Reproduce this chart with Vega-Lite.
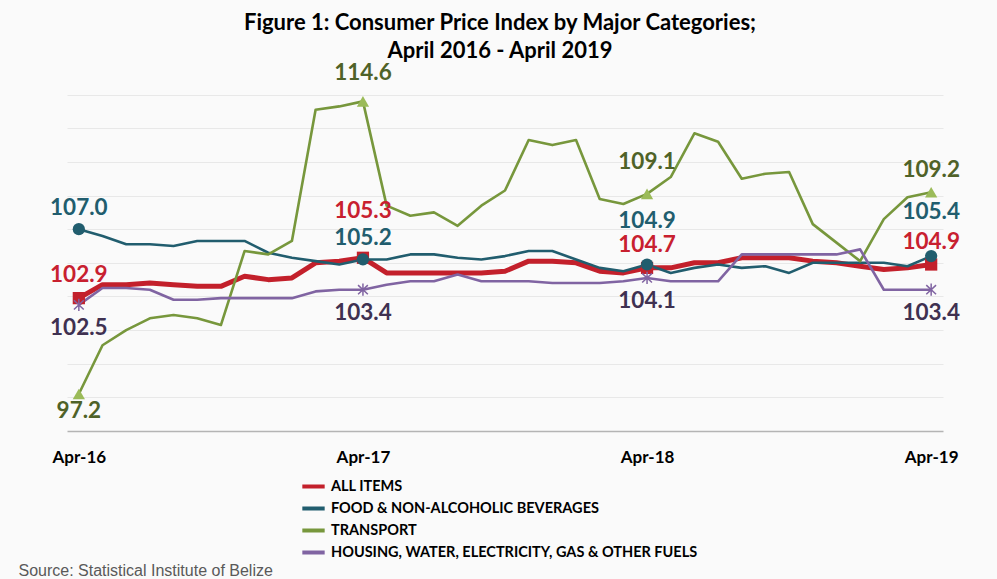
{
  "$schema": "https://vega.github.io/schema/vega-lite/v6.json",
  "width": 876,
  "height": 370,
  "autosize": {"type": "none"},
  "padding": {"left": 67, "top": 61, "right": 54, "bottom": 148},
  "background": "#fafafa",
  "title": {
    "text": ["Figure 1: Consumer Price Index by Major Categories;", "April 2016 - April 2019"],
    "font": "Lato", "fontSize": 22, "fontWeight": "bold", "color": "#000000",
    "lineHeight": 28, "anchor": "middle", "dx": -5, "offset": -2
  },
  "datasets": {
    "cpi": [
      {"m":"Apr-16","s":"ALL ITEMS","v":102.9},{"m":"May-16","s":"ALL ITEMS","v":103.7},{"m":"Jun-16","s":"ALL ITEMS","v":103.7},{"m":"Jul-16","s":"ALL ITEMS","v":103.8},{"m":"Aug-16","s":"ALL ITEMS","v":103.7},{"m":"Sep-16","s":"ALL ITEMS","v":103.6},{"m":"Oct-16","s":"ALL ITEMS","v":103.6},{"m":"Nov-16","s":"ALL ITEMS","v":104.2},{"m":"Dec-16","s":"ALL ITEMS","v":104.0},{"m":"Jan-17","s":"ALL ITEMS","v":104.1},{"m":"Feb-17","s":"ALL ITEMS","v":105.0},{"m":"Mar-17","s":"ALL ITEMS","v":105.1},{"m":"Apr-17","s":"ALL ITEMS","v":105.3},{"m":"May-17","s":"ALL ITEMS","v":104.4},{"m":"Jun-17","s":"ALL ITEMS","v":104.4},{"m":"Jul-17","s":"ALL ITEMS","v":104.4},{"m":"Aug-17","s":"ALL ITEMS","v":104.4},{"m":"Sep-17","s":"ALL ITEMS","v":104.4},{"m":"Oct-17","s":"ALL ITEMS","v":104.5},{"m":"Nov-17","s":"ALL ITEMS","v":105.1},{"m":"Dec-17","s":"ALL ITEMS","v":105.1},{"m":"Jan-18","s":"ALL ITEMS","v":105.0},{"m":"Feb-18","s":"ALL ITEMS","v":104.5},{"m":"Mar-18","s":"ALL ITEMS","v":104.4},{"m":"Apr-18","s":"ALL ITEMS","v":104.7},{"m":"May-18","s":"ALL ITEMS","v":104.7},{"m":"Jun-18","s":"ALL ITEMS","v":105.0},{"m":"Jul-18","s":"ALL ITEMS","v":105.0},{"m":"Aug-18","s":"ALL ITEMS","v":105.3},{"m":"Sep-18","s":"ALL ITEMS","v":105.3},{"m":"Oct-18","s":"ALL ITEMS","v":105.3},{"m":"Nov-18","s":"ALL ITEMS","v":105.1},{"m":"Dec-18","s":"ALL ITEMS","v":105.0},{"m":"Jan-19","s":"ALL ITEMS","v":104.8},{"m":"Feb-19","s":"ALL ITEMS","v":104.6},{"m":"Mar-19","s":"ALL ITEMS","v":104.7},{"m":"Apr-19","s":"ALL ITEMS","v":104.9},
      {"m":"Apr-16","s":"FOOD & NON-ALCOHOLIC BEVERAGES","v":107.0},{"m":"May-16","s":"FOOD & NON-ALCOHOLIC BEVERAGES","v":106.6},{"m":"Jun-16","s":"FOOD & NON-ALCOHOLIC BEVERAGES","v":106.1},{"m":"Jul-16","s":"FOOD & NON-ALCOHOLIC BEVERAGES","v":106.1},{"m":"Aug-16","s":"FOOD & NON-ALCOHOLIC BEVERAGES","v":106.0},{"m":"Sep-16","s":"FOOD & NON-ALCOHOLIC BEVERAGES","v":106.3},{"m":"Oct-16","s":"FOOD & NON-ALCOHOLIC BEVERAGES","v":106.3},{"m":"Nov-16","s":"FOOD & NON-ALCOHOLIC BEVERAGES","v":106.3},{"m":"Dec-16","s":"FOOD & NON-ALCOHOLIC BEVERAGES","v":105.6},{"m":"Jan-17","s":"FOOD & NON-ALCOHOLIC BEVERAGES","v":105.3},{"m":"Feb-17","s":"FOOD & NON-ALCOHOLIC BEVERAGES","v":105.1},{"m":"Mar-17","s":"FOOD & NON-ALCOHOLIC BEVERAGES","v":104.9},{"m":"Apr-17","s":"FOOD & NON-ALCOHOLIC BEVERAGES","v":105.2},{"m":"May-17","s":"FOOD & NON-ALCOHOLIC BEVERAGES","v":105.2},{"m":"Jun-17","s":"FOOD & NON-ALCOHOLIC BEVERAGES","v":105.5},{"m":"Jul-17","s":"FOOD & NON-ALCOHOLIC BEVERAGES","v":105.5},{"m":"Aug-17","s":"FOOD & NON-ALCOHOLIC BEVERAGES","v":105.3},{"m":"Sep-17","s":"FOOD & NON-ALCOHOLIC BEVERAGES","v":105.2},{"m":"Oct-17","s":"FOOD & NON-ALCOHOLIC BEVERAGES","v":105.4},{"m":"Nov-17","s":"FOOD & NON-ALCOHOLIC BEVERAGES","v":105.7},{"m":"Dec-17","s":"FOOD & NON-ALCOHOLIC BEVERAGES","v":105.7},{"m":"Jan-18","s":"FOOD & NON-ALCOHOLIC BEVERAGES","v":105.2},{"m":"Feb-18","s":"FOOD & NON-ALCOHOLIC BEVERAGES","v":104.7},{"m":"Mar-18","s":"FOOD & NON-ALCOHOLIC BEVERAGES","v":104.5},{"m":"Apr-18","s":"FOOD & NON-ALCOHOLIC BEVERAGES","v":104.9},{"m":"May-18","s":"FOOD & NON-ALCOHOLIC BEVERAGES","v":104.4},{"m":"Jun-18","s":"FOOD & NON-ALCOHOLIC BEVERAGES","v":104.7},{"m":"Jul-18","s":"FOOD & NON-ALCOHOLIC BEVERAGES","v":104.9},{"m":"Aug-18","s":"FOOD & NON-ALCOHOLIC BEVERAGES","v":104.7},{"m":"Sep-18","s":"FOOD & NON-ALCOHOLIC BEVERAGES","v":104.8},{"m":"Oct-18","s":"FOOD & NON-ALCOHOLIC BEVERAGES","v":104.4},{"m":"Nov-18","s":"FOOD & NON-ALCOHOLIC BEVERAGES","v":105.0},{"m":"Dec-18","s":"FOOD & NON-ALCOHOLIC BEVERAGES","v":105.0},{"m":"Jan-19","s":"FOOD & NON-ALCOHOLIC BEVERAGES","v":105.0},{"m":"Feb-19","s":"FOOD & NON-ALCOHOLIC BEVERAGES","v":105.0},{"m":"Mar-19","s":"FOOD & NON-ALCOHOLIC BEVERAGES","v":104.8},{"m":"Apr-19","s":"FOOD & NON-ALCOHOLIC BEVERAGES","v":105.4},
      {"m":"Apr-16","s":"TRANSPORT","v":97.2},{"m":"May-16","s":"TRANSPORT","v":100.1},{"m":"Jun-16","s":"TRANSPORT","v":101.0},{"m":"Jul-16","s":"TRANSPORT","v":101.7},{"m":"Aug-16","s":"TRANSPORT","v":101.9},{"m":"Sep-16","s":"TRANSPORT","v":101.7},{"m":"Oct-16","s":"TRANSPORT","v":101.3},{"m":"Nov-16","s":"TRANSPORT","v":105.7},{"m":"Dec-16","s":"TRANSPORT","v":105.5},{"m":"Jan-17","s":"TRANSPORT","v":106.3},{"m":"Feb-17","s":"TRANSPORT","v":114.1},{"m":"Mar-17","s":"TRANSPORT","v":114.3},{"m":"Apr-17","s":"TRANSPORT","v":114.6},{"m":"May-17","s":"TRANSPORT","v":108.4},{"m":"Jun-17","s":"TRANSPORT","v":107.8},{"m":"Jul-17","s":"TRANSPORT","v":108.0},{"m":"Aug-17","s":"TRANSPORT","v":107.2},{"m":"Sep-17","s":"TRANSPORT","v":108.4},{"m":"Oct-17","s":"TRANSPORT","v":109.3},{"m":"Nov-17","s":"TRANSPORT","v":112.3},{"m":"Dec-17","s":"TRANSPORT","v":112.0},{"m":"Jan-18","s":"TRANSPORT","v":112.3},{"m":"Feb-18","s":"TRANSPORT","v":108.8},{"m":"Mar-18","s":"TRANSPORT","v":108.5},{"m":"Apr-18","s":"TRANSPORT","v":109.1},{"m":"May-18","s":"TRANSPORT","v":110.1},{"m":"Jun-18","s":"TRANSPORT","v":112.7},{"m":"Jul-18","s":"TRANSPORT","v":112.2},{"m":"Aug-18","s":"TRANSPORT","v":110.0},{"m":"Sep-18","s":"TRANSPORT","v":110.3},{"m":"Oct-18","s":"TRANSPORT","v":110.4},{"m":"Nov-18","s":"TRANSPORT","v":107.3},{"m":"Dec-18","s":"TRANSPORT","v":106.2},{"m":"Jan-19","s":"TRANSPORT","v":105.1},{"m":"Feb-19","s":"TRANSPORT","v":107.6},{"m":"Mar-19","s":"TRANSPORT","v":108.9},{"m":"Apr-19","s":"TRANSPORT","v":109.2},
      {"m":"Apr-16","s":"HOUSING, WATER, ELECTRICITY, GAS & OTHER FUELS","v":102.5},{"m":"May-16","s":"HOUSING, WATER, ELECTRICITY, GAS & OTHER FUELS","v":103.5},{"m":"Jun-16","s":"HOUSING, WATER, ELECTRICITY, GAS & OTHER FUELS","v":103.5},{"m":"Jul-16","s":"HOUSING, WATER, ELECTRICITY, GAS & OTHER FUELS","v":103.4},{"m":"Aug-16","s":"HOUSING, WATER, ELECTRICITY, GAS & OTHER FUELS","v":102.8},{"m":"Sep-16","s":"HOUSING, WATER, ELECTRICITY, GAS & OTHER FUELS","v":102.8},{"m":"Oct-16","s":"HOUSING, WATER, ELECTRICITY, GAS & OTHER FUELS","v":102.9},{"m":"Nov-16","s":"HOUSING, WATER, ELECTRICITY, GAS & OTHER FUELS","v":102.9},{"m":"Dec-16","s":"HOUSING, WATER, ELECTRICITY, GAS & OTHER FUELS","v":102.9},{"m":"Jan-17","s":"HOUSING, WATER, ELECTRICITY, GAS & OTHER FUELS","v":102.9},{"m":"Feb-17","s":"HOUSING, WATER, ELECTRICITY, GAS & OTHER FUELS","v":103.3},{"m":"Mar-17","s":"HOUSING, WATER, ELECTRICITY, GAS & OTHER FUELS","v":103.4},{"m":"Apr-17","s":"HOUSING, WATER, ELECTRICITY, GAS & OTHER FUELS","v":103.4},{"m":"May-17","s":"HOUSING, WATER, ELECTRICITY, GAS & OTHER FUELS","v":103.7},{"m":"Jun-17","s":"HOUSING, WATER, ELECTRICITY, GAS & OTHER FUELS","v":103.9},{"m":"Jul-17","s":"HOUSING, WATER, ELECTRICITY, GAS & OTHER FUELS","v":103.9},{"m":"Aug-17","s":"HOUSING, WATER, ELECTRICITY, GAS & OTHER FUELS","v":104.3},{"m":"Sep-17","s":"HOUSING, WATER, ELECTRICITY, GAS & OTHER FUELS","v":103.9},{"m":"Oct-17","s":"HOUSING, WATER, ELECTRICITY, GAS & OTHER FUELS","v":103.9},{"m":"Nov-17","s":"HOUSING, WATER, ELECTRICITY, GAS & OTHER FUELS","v":103.9},{"m":"Dec-17","s":"HOUSING, WATER, ELECTRICITY, GAS & OTHER FUELS","v":103.8},{"m":"Jan-18","s":"HOUSING, WATER, ELECTRICITY, GAS & OTHER FUELS","v":103.8},{"m":"Feb-18","s":"HOUSING, WATER, ELECTRICITY, GAS & OTHER FUELS","v":103.8},{"m":"Mar-18","s":"HOUSING, WATER, ELECTRICITY, GAS & OTHER FUELS","v":103.9},{"m":"Apr-18","s":"HOUSING, WATER, ELECTRICITY, GAS & OTHER FUELS","v":104.1},{"m":"May-18","s":"HOUSING, WATER, ELECTRICITY, GAS & OTHER FUELS","v":103.9},{"m":"Jun-18","s":"HOUSING, WATER, ELECTRICITY, GAS & OTHER FUELS","v":103.9},{"m":"Jul-18","s":"HOUSING, WATER, ELECTRICITY, GAS & OTHER FUELS","v":103.9},{"m":"Aug-18","s":"HOUSING, WATER, ELECTRICITY, GAS & OTHER FUELS","v":105.5},{"m":"Sep-18","s":"HOUSING, WATER, ELECTRICITY, GAS & OTHER FUELS","v":105.5},{"m":"Oct-18","s":"HOUSING, WATER, ELECTRICITY, GAS & OTHER FUELS","v":105.5},{"m":"Nov-18","s":"HOUSING, WATER, ELECTRICITY, GAS & OTHER FUELS","v":105.5},{"m":"Dec-18","s":"HOUSING, WATER, ELECTRICITY, GAS & OTHER FUELS","v":105.5},{"m":"Jan-19","s":"HOUSING, WATER, ELECTRICITY, GAS & OTHER FUELS","v":105.8},{"m":"Feb-19","s":"HOUSING, WATER, ELECTRICITY, GAS & OTHER FUELS","v":103.4},{"m":"Mar-19","s":"HOUSING, WATER, ELECTRICITY, GAS & OTHER FUELS","v":103.4},{"m":"Apr-19","s":"HOUSING, WATER, ELECTRICITY, GAS & OTHER FUELS","v":103.4}
    ]
  },
  "data": {"name": "cpi"},
  "encoding": {
    "x": {
      "field": "m", "type": "ordinal", "sort": null,
      "scale": {"type": "point", "padding": 0.5, "domain": ["Apr-16","May-16","Jun-16","Jul-16","Aug-16","Sep-16","Oct-16","Nov-16","Dec-16","Jan-17","Feb-17","Mar-17","Apr-17","May-17","Jun-17","Jul-17","Aug-17","Sep-17","Oct-17","Nov-17","Dec-17","Jan-18","Feb-18","Mar-18","Apr-18","May-18","Jun-18","Jul-18","Aug-18","Sep-18","Oct-18","Nov-18","Dec-18","Jan-19","Feb-19","Mar-19","Apr-19"]},
      "axis": {
        "values": ["Apr-16","Apr-17","Apr-18","Apr-19"],
        "labelAngle": 0, "labelFont": "Lato", "labelFontWeight": "bold", "labelFontSize": 17, "labelColor": "#000000",
        "labelPadding": 18, "ticks": false, "grid": false,
        "domainColor": "#b4b4b4", "domainWidth": 1.5,
        "title": "Source: Statistical Institute of Belize",
        "titleFont": "Liberation Sans", "titleFontWeight": "normal", "titleFontSize": 16, "titleColor": "#595959",
        "titleAnchor": "start", "titleAlign": "left", "titleBaseline": "alphabetic", "titleX": -49, "titleY": 144
      }
    },
    "y": {
      "field": "v", "type": "quantitative",
      "scale": {"domain": [95, 117], "nice": false, "zero": false},
      "axis": {"values": [97,99,101,103,105,107,109,111,113,115], "grid": true, "gridColor": "#e8e8e8", "gridWidth": 1.2, "labels": false, "ticks": false, "domain": false, "title": null}
    }
  },
  "layer": [
    {
      "transform": [{"filter": "datum.s == 'ALL ITEMS'"}],
      "mark": {"type": "line", "strokeWidth": 5, "strokeJoin": "round"},
      "encoding": {"color": {"field": "s", "type": "nominal", "scale": {"domain": ["ALL ITEMS","FOOD & NON-ALCOHOLIC BEVERAGES","TRANSPORT","HOUSING, WATER, ELECTRICITY, GAS & OTHER FUELS"], "range": ["#c3202b","#215d6e","#77973c","#8064a2"]}, "legend": {"title": null}}}
    },
    {
      "transform": [{"filter": "datum.s != 'ALL ITEMS'"}],
      "mark": {"type": "line", "strokeWidth": 2.6, "strokeJoin": "round"},
      "encoding": {"color": {"field": "s", "type": "nominal"}}
    },
    {
      "transform": [{"filter": "datum.s == 'ALL ITEMS' && (datum.m == 'Apr-16' || datum.m == 'Apr-17' || datum.m == 'Apr-18' || datum.m == 'Apr-19')"}],
      "mark": {"type": "point", "shape": "square", "filled": true, "size": 150, "color": "#c3202b", "opacity": 1}
    },
    {
      "transform": [{"filter": "datum.s == 'FOOD & NON-ALCOHOLIC BEVERAGES' && (datum.m == 'Apr-16' || datum.m == 'Apr-17' || datum.m == 'Apr-18' || datum.m == 'Apr-19')"}],
      "mark": {"type": "point", "shape": "circle", "filled": true, "size": 150, "color": "#215d6e", "opacity": 1}
    },
    {
      "transform": [{"filter": "datum.s == 'TRANSPORT' && (datum.m == 'Apr-16' || datum.m == 'Apr-17' || datum.m == 'Apr-18' || datum.m == 'Apr-19')"}],
      "mark": {"type": "point", "shape": "triangle-up", "filled": true, "size": 150, "color": "#9bbb59", "opacity": 1}
    },
    {
      "transform": [{"filter": "datum.s == 'HOUSING, WATER, ELECTRICITY, GAS & OTHER FUELS' && (datum.m == 'Apr-16' || datum.m == 'Apr-17' || datum.m == 'Apr-18' || datum.m == 'Apr-19')"}],
      "mark": {"type": "point", "shape": "M0,-1L0,1M-0.8,-0.75L0.8,0.75M-0.8,0.75L0.8,-0.75", "filled": false, "size": 150, "stroke": "#8064a2", "strokeWidth": 1.5, "opacity": 1}
    },
    {
      "transform": [{"filter": "datum.s == 'ALL ITEMS' && (datum.m == 'Apr-16' || datum.m == 'Apr-18' || datum.m == 'Apr-19')"}],
      "mark": {"type": "text", "font": "Lato", "fontWeight": "bold", "fontSize": 22.5, "color": "#c8202f", "baseline": "middle", "dy": -23},
      "encoding": {"text": {"field": "v", "type": "quantitative", "format": ".1f"}}
    },
    {
      "transform": [{"filter": "datum.s == 'ALL ITEMS' && datum.m == 'Apr-17'"}],
      "mark": {"type": "text", "font": "Lato", "fontWeight": "bold", "fontSize": 22.5, "color": "#c8202f", "baseline": "middle", "dy": -47},
      "encoding": {"text": {"field": "v", "type": "quantitative", "format": ".1f"}}
    },
    {
      "transform": [{"filter": "datum.s == 'FOOD & NON-ALCOHOLIC BEVERAGES' && (datum.m == 'Apr-16' || datum.m == 'Apr-17')"}],
      "mark": {"type": "text", "font": "Lato", "fontWeight": "bold", "fontSize": 22.5, "color": "#215d6e", "baseline": "middle", "dy": -21},
      "encoding": {"text": {"field": "v", "type": "quantitative", "format": ".1f"}}
    },
    {
      "transform": [{"filter": "datum.s == 'FOOD & NON-ALCOHOLIC BEVERAGES' && (datum.m == 'Apr-18' || datum.m == 'Apr-19')"}],
      "mark": {"type": "text", "font": "Lato", "fontWeight": "bold", "fontSize": 22.5, "color": "#215d6e", "baseline": "middle", "dy": -44},
      "encoding": {"text": {"field": "v", "type": "quantitative", "format": ".1f"}}
    },
    {
      "transform": [{"filter": "datum.s == 'TRANSPORT' && datum.m == 'Apr-16'"}],
      "mark": {"type": "text", "font": "Lato", "fontWeight": "bold", "fontSize": 22.5, "color": "#4f6228", "baseline": "middle", "dy": 17},
      "encoding": {"text": {"field": "v", "type": "quantitative", "format": ".1f"}}
    },
    {
      "transform": [{"filter": "datum.s == 'TRANSPORT' && datum.m == 'Apr-17'"}],
      "mark": {"type": "text", "font": "Lato", "fontWeight": "bold", "fontSize": 22.5, "color": "#4f6228", "baseline": "middle", "dy": -28},
      "encoding": {"text": {"field": "v", "type": "quantitative", "format": ".1f"}}
    },
    {
      "transform": [{"filter": "datum.s == 'TRANSPORT' && datum.m == 'Apr-18'"}],
      "mark": {"type": "text", "font": "Lato", "fontWeight": "bold", "fontSize": 22.5, "color": "#4f6228", "baseline": "middle", "dy": -32},
      "encoding": {"text": {"field": "v", "type": "quantitative", "format": ".1f"}}
    },
    {
      "transform": [{"filter": "datum.s == 'TRANSPORT' && datum.m == 'Apr-19'"}],
      "mark": {"type": "text", "font": "Lato", "fontWeight": "bold", "fontSize": 22.5, "color": "#4f6228", "baseline": "middle", "dy": -22},
      "encoding": {"text": {"field": "v", "type": "quantitative", "format": ".1f"}}
    },
    {
      "transform": [{"filter": "datum.s == 'HOUSING, WATER, ELECTRICITY, GAS & OTHER FUELS' && (datum.m == 'Apr-16' || datum.m == 'Apr-17' || datum.m == 'Apr-18' || datum.m == 'Apr-19')"}],
      "mark": {"type": "text", "font": "Lato", "fontWeight": "bold", "fontSize": 22.5, "color": "#3f3151", "baseline": "middle", "dy": 23},
      "encoding": {"text": {"field": "v", "type": "quantitative", "format": ".1f"}}
    }
  ],
  "config": {
    "font": "Lato",
    "view": {"stroke": null},
    "legend": {
      "orient": "none", "legendX": 233, "legendY": 412, "direction": "vertical",
      "symbolType": "stroke", "symbolSize": 500, "symbolStrokeWidth": 4,
      "labelFont": "Lato", "labelFontWeight": "bold", "labelFontSize": 14.5, "labelColor": "#000000",
      "labelOffset": 4, "rowPadding": 0, "padding": 0, "labelLimit": 500
    }
  }
}
